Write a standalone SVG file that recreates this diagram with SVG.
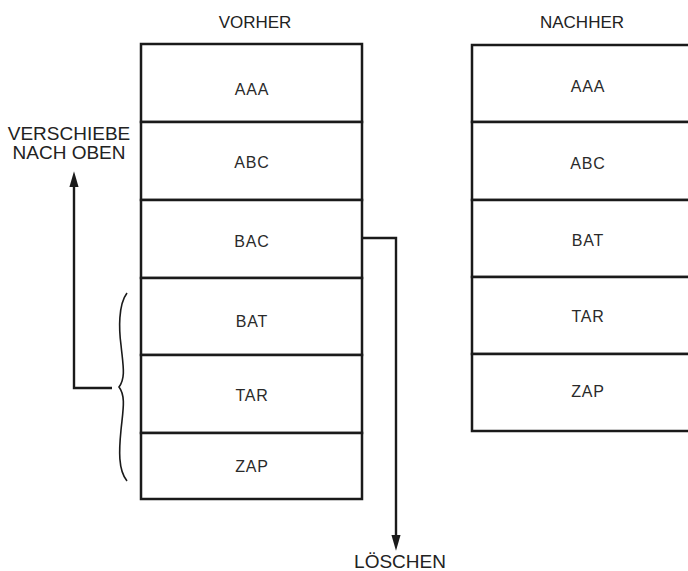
<svg xmlns="http://www.w3.org/2000/svg" width="688" height="571" viewBox="0 0 688 571">
<style>
.cell{fill:#fff;stroke:#1a1a1a;stroke-width:2.5}
.lbl{font-family:"Liberation Sans",Arial,sans-serif;font-size:16px;letter-spacing:0.8px;fill:#2a2a2a;text-anchor:middle}
.ttl{font-family:"Liberation Sans",Arial,sans-serif;font-size:17px;fill:#222;text-anchor:middle}
.side{font-family:"Liberation Sans",Arial,sans-serif;font-size:19px;fill:#222;text-anchor:middle}
.con{fill:none;stroke:#1a1a1a;stroke-width:2.4}
</style>
<defs>
<marker id="ah" markerWidth="16" markerHeight="24" refX="14" refY="7" orient="auto" markerUnits="userSpaceOnUse" viewBox="0 0 24 14">
<path d="M0,0 L24,7 L0,14 Z" fill="#1a1a1a"/>
</marker>
</defs>
<rect width="688" height="571" fill="#fff"/>
<text class="ttl" x="255" y="28">VORHER</text>
<text class="ttl" x="582" y="28">NACHHER</text>
<g id="left-table">
<g id="l-aaa"><rect class="cell" x="141" y="44" width="221" height="78"/><text class="lbl" x="252" y="95">AAA</text></g>
<g id="l-abc"><rect class="cell" x="141" y="122" width="221" height="78"/><text class="lbl" x="252" y="168">ABC</text></g>
<g id="l-bac"><rect class="cell" x="141" y="200" width="221" height="78"/><text class="lbl" x="252" y="247">BAC</text></g>
<g id="l-bat"><rect class="cell" x="141" y="278" width="221" height="77"/><text class="lbl" x="252" y="327">BAT</text></g>
<g id="l-tar"><rect class="cell" x="141" y="355" width="221" height="78"/><text class="lbl" x="252" y="401">TAR</text></g>
<g id="l-zap"><rect class="cell" x="141" y="433" width="221" height="66"/><text class="lbl" x="252" y="472">ZAP</text></g>
</g>
<g id="right-table">
<g id="r-aaa"><rect class="cell" x="472" y="45" width="230" height="77"/><text class="lbl" x="588" y="92">AAA</text></g>
<g id="r-abc"><rect class="cell" x="472" y="122" width="230" height="78"/><text class="lbl" x="588" y="169">ABC</text></g>
<g id="r-bat"><rect class="cell" x="472" y="200" width="230" height="77"/><text class="lbl" x="588" y="246">BAT</text></g>
<g id="r-tar"><rect class="cell" x="472" y="277" width="230" height="77"/><text class="lbl" x="588" y="322">TAR</text></g>
<g id="r-zap"><rect class="cell" x="472" y="354" width="230" height="77"/><text class="lbl" x="588" y="397">ZAP</text></g>
</g>
<g id="connectors">
<path class="con" d="M112,388 H74 V178" marker-end="url(#ah)"/>
<path class="con" d="M362,238 H396 V544" marker-end="url(#ah)"/>
<path d="M127,293 C118,305 119,330 121,345 C123,365 126,378 119,387 C126,396 123,410 121,430 C119,450 118,470 127,481" fill="none" stroke="#1a1a1a" stroke-width="1.6"/>
</g>
<g id="labels">
<text class="side" x="69" y="140">VERSCHIEBE</text>
<text class="side" x="69" y="159">NACH OBEN</text>
<text class="side" x="400" y="568">LÖSCHEN</text>
</g>
</svg>
